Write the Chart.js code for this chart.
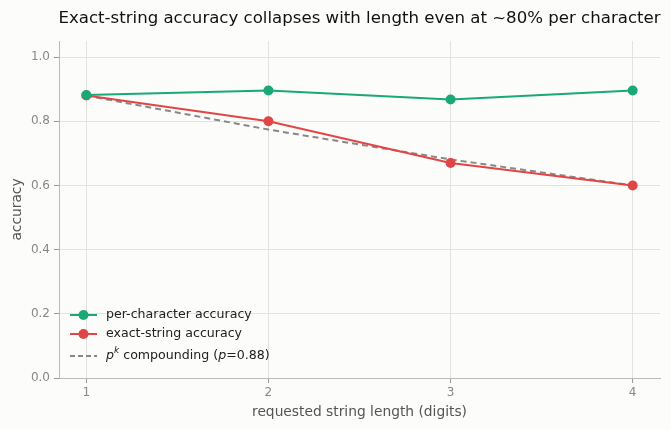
<!DOCTYPE html>
<html>
<head>
<meta charset="utf-8">
<script src="https://cdn.jsdelivr.net/npm/chart.js@4"></script>
<style>
  html, body { margin: 0; padding: 0; background: #fcfcfa; }
  #wrap { width: 671px; height: 430px; }
</style>
</head>
<body>
<div id="wrap"><canvas id="chart" width="671" height="430"></canvas></div>
<script>
// Data
const lengths = [1, 2, 3, 4];
const perCharAcc = [0.882, 0.896, 0.868, 0.896];
const exactAcc = [0.88, 0.80, 0.67, 0.60];
const compounding = [0.88, 0.774, 0.681, 0.600]; // p^k, p = 0.88
const yTicks = [0, 0.2, 0.4, 0.6, 0.8, 1.0];

const titleText = 'Exact-string accuracy collapses with length even at ~80% per character';
const FONT = '"DejaVu Sans", sans-serif';
const GREEN = '#1aa876';
const RED = '#e04646';
const GREY = '#888888';

const toPoints = vals => lengths.map((x, i) => ({ x: x, y: vals[i] }));

// Title centred over the plot area, plus the legend with the italic p and superscript k
const overlay = {
  id: 'overlay',
  afterDraw(chart) {
    const ctx = chart.ctx;
    const area = chart.chartArea;
    ctx.save();
    ctx.fillStyle = '#111';
    ctx.font = '16.6px ' + FONT;
    ctx.textAlign = 'center';
    ctx.textBaseline = 'middle';
    ctx.fillText(titleText, (area.left + area.right) / 2, 19);

    // legend
    const x0 = area.left + 11;
    const rows = [315, 334, 356];
    const FS = '12.6px ';
    ctx.textAlign = 'left';
    ctx.textBaseline = 'middle';
    ctx.font = FS + FONT;
    [[GREEN, 'per-character accuracy'], [RED, 'exact-string accuracy']].forEach((item, i) => {
      ctx.strokeStyle = item[0];
      ctx.fillStyle = item[0];
      ctx.lineWidth = 2;
      ctx.setLineDash([]);
      ctx.beginPath();
      ctx.moveTo(x0, rows[i]);
      ctx.lineTo(x0 + 27, rows[i]);
      ctx.stroke();
      ctx.beginPath();
      ctx.arc(x0 + 13.5, rows[i], 5, 0, Math.PI * 2);
      ctx.fill();
      ctx.fillStyle = '#222';
      ctx.fillText(item[1], x0 + 36, rows[i]);
    });
    // dashed entry
    const r = rows[2];
    ctx.strokeStyle = GREY;
    ctx.lineWidth = 2;
    ctx.setLineDash([5, 3]);
    ctx.beginPath();
    ctx.moveTo(x0, r);
    ctx.lineTo(x0 + 27, r);
    ctx.stroke();
    ctx.setLineDash([]);
    ctx.fillStyle = '#222';
    let tx = x0 + 36;
    const parts = [
      ['italic ' + FS + FONT, 'p', 0],
      ['italic 9px ' + FONT, 'k', -5],
      [FS + FONT, ' compounding (', 0],
      ['italic ' + FS + FONT, 'p', 0],
      [FS + FONT, '=0.88)', 0]
    ];
    parts.forEach(p => {
      ctx.font = p[0];
      ctx.fillText(p[1], tx, r + p[2]);
      tx += ctx.measureText(p[1]).width;
    });
    ctx.restore();
  }
};

const bgPlugin = {
  id: 'bg',
  beforeDraw(chart) {
    const ctx = chart.ctx;
    ctx.save();
    ctx.fillStyle = '#fcfcfa';
    ctx.fillRect(0, 0, chart.width, chart.height);
    ctx.restore();
  }
};

new Chart(document.getElementById('chart'), {
  type: 'line',
  data: {
    datasets: [
      {
        label: 'per-character accuracy',
        data: toPoints(perCharAcc),
        borderColor: GREEN,
        backgroundColor: GREEN,
        borderWidth: 2,
        pointRadius: 5,
        pointHoverRadius: 5,
        pointBorderWidth: 0
      },
      {
        label: 'exact-string accuracy',
        data: toPoints(exactAcc),
        borderColor: RED,
        backgroundColor: RED,
        borderWidth: 2,
        pointRadius: 5,
        pointHoverRadius: 5,
        pointBorderWidth: 0
      },
      {
        label: 'p^k compounding (p=0.88)',
        data: toPoints(compounding),
        borderColor: GREY,
        backgroundColor: GREY,
        borderWidth: 2,
        borderDash: [6, 4],
        pointRadius: 0
      }
    ]
  },
  options: {
    responsive: false,
    animation: false,
    layout: { padding: { top: 41, right: 11, left: 0, bottom: 0 } },
    plugins: {
      legend: { display: false },
      title: { display: false },
      tooltip: { enabled: false }
    },
    scales: {
      x: {
        type: 'linear',
        min: 0.85,
        max: 4.15,
        afterBuildTicks: scale => { scale.ticks = lengths.map(v => ({ value: v })); },
        afterFit: scale => { scale.height = 52; },
        grid: { color: '#e2e2de', tickColor: '#999', tickLength: 5 },
        border: { color: '#bbbbb5' },
        ticks: {
          color: '#888',
          font: { family: FONT, size: 12 },
          padding: 3,
          callback: v => String(v)
        },
        title: {
          display: true,
          text: 'requested string length (digits)',
          color: '#555',
          font: { family: FONT, size: 13.8 },
          padding: { top: 0, bottom: 9 }
        }
      },
      y: {
        min: 0,
        max: 1.05,
        afterBuildTicks: scale => { scale.ticks = yTicks.map(v => ({ value: v })); },
        afterFit: scale => { scale.width = 59; },
        grid: { color: '#e2e2de', tickColor: '#999', tickLength: 5 },
        border: { color: '#bbbbb5' },
        ticks: {
          color: '#888',
          font: { family: FONT, size: 12 },
          padding: 4,
          callback: v => v.toFixed(1)
        },
        title: {
          display: true,
          text: 'accuracy',
          color: '#555',
          font: { family: FONT, size: 13.8 },
          padding: { top: 9, bottom: 0 }
        }
      }
    }
  },
  plugins: [bgPlugin, overlay]
});
</script>
</body>
</html>
